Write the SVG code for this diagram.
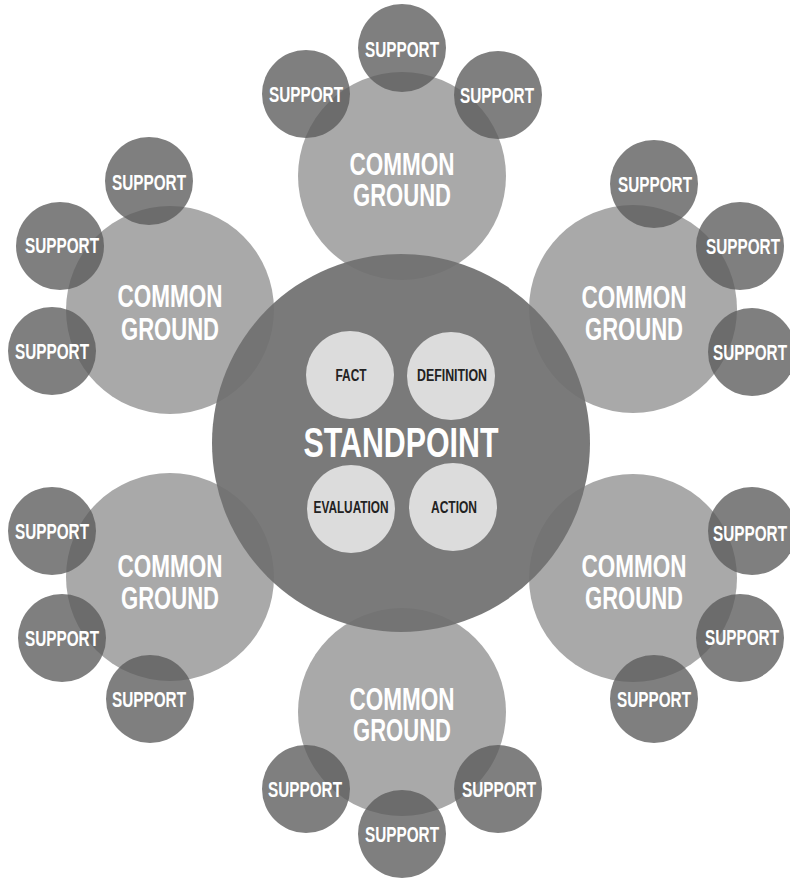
<svg xmlns="http://www.w3.org/2000/svg" width="790" height="879" viewBox="0 0 790 879">
<style>
.cg{fill:#a9a9a9}
.sp{fill:#5b5b5b;fill-opacity:0.78}
.st{fill:#707070;fill-opacity:0.93}
.in{fill:#dcdcdc}
text{font-family:"Liberation Sans","DejaVu Sans",sans-serif;font-weight:bold;text-anchor:middle}
.tcg{fill:#ffffff;font-size:32px}
.tsp{fill:#ffffff;font-size:22px}
.tst{fill:#ffffff;font-size:42px}
.tin{fill:#222222;font-size:16px}
</style>
<rect width="790" height="879" fill="#ffffff"/>
<g id="connectors"/>
<g id="cg-top"><circle class="cg" cx="402" cy="176" r="104"/><text class="tcg" x="402" y="175" textLength="105" lengthAdjust="spacingAndGlyphs">COMMON</text><text class="tcg" x="402" y="206" textLength="98" lengthAdjust="spacingAndGlyphs">GROUND</text></g>
<g id="cg-upper-right"><circle class="cg" cx="633" cy="309" r="104"/><text class="tcg" x="634" y="308" textLength="105" lengthAdjust="spacingAndGlyphs">COMMON</text><text class="tcg" x="634" y="340" textLength="98" lengthAdjust="spacingAndGlyphs">GROUND</text></g>
<g id="cg-lower-right"><circle class="cg" cx="633" cy="578" r="104"/><text class="tcg" x="634" y="577" textLength="105" lengthAdjust="spacingAndGlyphs">COMMON</text><text class="tcg" x="634" y="609" textLength="98" lengthAdjust="spacingAndGlyphs">GROUND</text></g>
<g id="cg-bottom"><circle class="cg" cx="402" cy="712" r="104"/><text class="tcg" x="402" y="710" textLength="105" lengthAdjust="spacingAndGlyphs">COMMON</text><text class="tcg" x="402" y="741" textLength="98" lengthAdjust="spacingAndGlyphs">GROUND</text></g>
<g id="cg-lower-left"><circle class="cg" cx="170" cy="577" r="104"/><text class="tcg" x="170" y="577" textLength="105" lengthAdjust="spacingAndGlyphs">COMMON</text><text class="tcg" x="170" y="609" textLength="98" lengthAdjust="spacingAndGlyphs">GROUND</text></g>
<g id="cg-upper-left"><circle class="cg" cx="170" cy="310" r="104"/><text class="tcg" x="170" y="307" textLength="105" lengthAdjust="spacingAndGlyphs">COMMON</text><text class="tcg" x="170" y="340" textLength="98" lengthAdjust="spacingAndGlyphs">GROUND</text></g>
<g id="sup-top-1"><circle class="sp" cx="306" cy="94" r="44"/><text class="tsp" x="306" y="102" textLength="74" lengthAdjust="spacingAndGlyphs">SUPPORT</text></g>
<g id="sup-top-2"><circle class="sp" cx="402" cy="48" r="44"/><text class="tsp" x="402" y="57" textLength="74" lengthAdjust="spacingAndGlyphs">SUPPORT</text></g>
<g id="sup-top-3"><circle class="sp" cx="498" cy="95" r="44"/><text class="tsp" x="497" y="103" textLength="74" lengthAdjust="spacingAndGlyphs">SUPPORT</text></g>
<g id="sup-ur-1"><circle class="sp" cx="654" cy="184" r="44"/><text class="tsp" x="655" y="192" textLength="74" lengthAdjust="spacingAndGlyphs">SUPPORT</text></g>
<g id="sup-ur-2"><circle class="sp" cx="740" cy="246" r="44"/><text class="tsp" x="743" y="254" textLength="74" lengthAdjust="spacingAndGlyphs">SUPPORT</text></g>
<g id="sup-ur-3"><circle class="sp" cx="752" cy="352" r="44"/><text class="tsp" x="750" y="360" textLength="74" lengthAdjust="spacingAndGlyphs">SUPPORT</text></g>
<g id="sup-lr-1"><circle class="sp" cx="752" cy="531" r="44"/><text class="tsp" x="750" y="541" textLength="74" lengthAdjust="spacingAndGlyphs">SUPPORT</text></g>
<g id="sup-lr-2"><circle class="sp" cx="740" cy="638" r="44"/><text class="tsp" x="742" y="645" textLength="74" lengthAdjust="spacingAndGlyphs">SUPPORT</text></g>
<g id="sup-lr-3"><circle class="sp" cx="654" cy="699" r="44"/><text class="tsp" x="654" y="707" textLength="74" lengthAdjust="spacingAndGlyphs">SUPPORT</text></g>
<g id="sup-bottom-1"><circle class="sp" cx="306" cy="789" r="44"/><text class="tsp" x="305" y="797" textLength="74" lengthAdjust="spacingAndGlyphs">SUPPORT</text></g>
<g id="sup-bottom-2"><circle class="sp" cx="402" cy="834" r="44"/><text class="tsp" x="402" y="842" textLength="74" lengthAdjust="spacingAndGlyphs">SUPPORT</text></g>
<g id="sup-bottom-3"><circle class="sp" cx="498" cy="789" r="44"/><text class="tsp" x="499" y="797" textLength="74" lengthAdjust="spacingAndGlyphs">SUPPORT</text></g>
<g id="sup-ll-1"><circle class="sp" cx="52" cy="531" r="44"/><text class="tsp" x="52" y="539" textLength="74" lengthAdjust="spacingAndGlyphs">SUPPORT</text></g>
<g id="sup-ll-2"><circle class="sp" cx="62" cy="638" r="44"/><text class="tsp" x="62" y="646" textLength="74" lengthAdjust="spacingAndGlyphs">SUPPORT</text></g>
<g id="sup-ll-3"><circle class="sp" cx="150" cy="699" r="44"/><text class="tsp" x="149" y="707" textLength="74" lengthAdjust="spacingAndGlyphs">SUPPORT</text></g>
<g id="sup-ul-1"><circle class="sp" cx="149" cy="181" r="44"/><text class="tsp" x="149" y="190" textLength="74" lengthAdjust="spacingAndGlyphs">SUPPORT</text></g>
<g id="sup-ul-2"><circle class="sp" cx="60" cy="246" r="44"/><text class="tsp" x="62" y="253" textLength="74" lengthAdjust="spacingAndGlyphs">SUPPORT</text></g>
<g id="sup-ul-3"><circle class="sp" cx="52" cy="351" r="44"/><text class="tsp" x="52" y="359" textLength="74" lengthAdjust="spacingAndGlyphs">SUPPORT</text></g>
<g id="standpoint"><circle class="st" cx="401" cy="443" r="189"/><text class="tst" x="401" y="457" textLength="195" lengthAdjust="spacingAndGlyphs">STANDPOINT</text></g>
<g id="fact"><circle class="in" cx="350" cy="375" r="44"/><text class="tin" x="351" y="381" textLength="31" lengthAdjust="spacingAndGlyphs">FACT</text></g>
<g id="definition"><circle class="in" cx="451" cy="376" r="44"/><text class="tin" x="452" y="381" textLength="70" lengthAdjust="spacingAndGlyphs">DEFINITION</text></g>
<g id="evaluation"><circle class="in" cx="351" cy="509" r="44"/><text class="tin" x="351" y="513" textLength="75" lengthAdjust="spacingAndGlyphs">EVALUATION</text></g>
<g id="action"><circle class="in" cx="453" cy="507" r="44"/><text class="tin" x="454" y="513" textLength="46" lengthAdjust="spacingAndGlyphs">ACTION</text></g>
</svg>
